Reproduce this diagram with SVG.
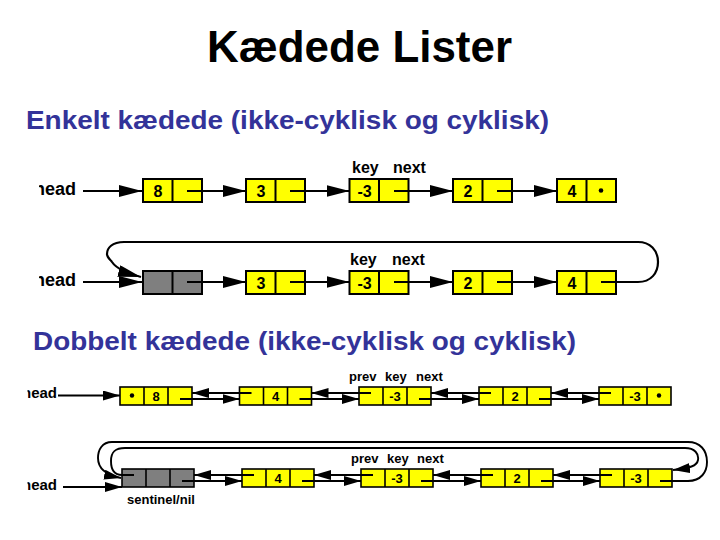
<svg xmlns="http://www.w3.org/2000/svg" width="720" height="540" viewBox="0 0 720 540">
<style>
  text { font-family: "Liberation Sans", Arial, sans-serif; font-weight: bold; }
  .title { font-size: 45px; fill: #000; }
  .sub { font-size: 26px; fill: #333399; }
  .lbl1 { font-size: 16px; fill: #000; }
  .lbl2 { font-size: 13px; fill: #000; }
  .head1 { font-size: 18px; fill: #000; }
  .head2 { font-size: 15px; fill: #000; }
  .num1 { font-size: 16px; fill: #000; text-anchor: middle; }
  .num2 { font-size: 13px; fill: #000; text-anchor: middle; }
  .y1 { fill: #ffff00; stroke: #000; stroke-width: 2; }
  .g1 { fill: #7f7f7f; stroke: #000; stroke-width: 2; }
  .y2 { fill: #ffff00; stroke: #000; stroke-width: 1.6; }
  .g2 { fill: #7f7f7f; stroke: #000; stroke-width: 1.6; }
  .cell1 { stroke: #000; stroke-width: 2; }
  .cell2 { stroke: #000; stroke-width: 1.6; }
  .c1 { fill: none; stroke: #000; stroke-width: 2.2; marker-end: url(#big); }
  .c2 { fill: none; stroke: #000; stroke-width: 1.9; marker-end: url(#small); }
  .dot { fill: #000; }
</style>
<defs>
  <marker id="big" markerUnits="userSpaceOnUse" viewBox="0 0 23 12" markerWidth="23" markerHeight="12" refX="23" refY="6" orient="auto">
    <path d="M0,0 L23,6 L0,12 z" fill="#000"/>
  </marker>
  <marker id="small" markerUnits="userSpaceOnUse" viewBox="0 0 17 10" markerWidth="17" markerHeight="10" refX="17" refY="5" orient="auto">
    <path d="M0,0 L17,5 L0,10 z" fill="#000"/>
  </marker>
  <clipPath id="clipH1"><rect x="39" y="150" width="60" height="160"/></clipPath>
  <clipPath id="clipH2"><rect x="27.5" y="370" width="60" height="140"/></clipPath>
</defs>

<g id="titles">
  <text class="title" x="207" y="62" textLength="305" lengthAdjust="spacingAndGlyphs">Kædede Lister</text>
  <text class="sub" x="26" y="129" textLength="523" lengthAdjust="spacingAndGlyphs">Enkelt kædede (ikke-cyklisk og cyklisk)</text>
  <text class="sub" x="33" y="350" textLength="543" lengthAdjust="spacingAndGlyphs">Dobbelt kædede (ikke-cyklisk og cyklisk)</text>
</g>

<g id="labels">
  <text class="head1" x="34" y="195" clip-path="url(#clipH1)">head</text>
  <text class="head1" x="34" y="286" clip-path="url(#clipH1)">head</text>
  <text class="head2" x="22" y="398" clip-path="url(#clipH2)">head</text>
  <text class="head2" x="22" y="490" clip-path="url(#clipH2)">head</text>
  <text class="lbl1" x="352" y="173">key</text>
  <text class="lbl1" x="393" y="173">next</text>
  <text class="lbl1" x="350" y="265">key</text>
  <text class="lbl1" x="392" y="265">next</text>
  <text class="lbl2" x="349" y="381">prev</text>
  <text class="lbl2" x="385" y="381">key</text>
  <text class="lbl2" x="416" y="381">next</text>
  <text class="lbl2" x="351" y="463">prev</text>
  <text class="lbl2" x="387" y="463">key</text>
  <text class="lbl2" x="417" y="463">next</text>
  <text class="lbl2" x="127" y="504">sentinel/nil</text>
</g>

<!-- Row 1: singly linked, non-cyclic -->
<g id="r1n1"><rect class="y1" x="143" y="179" width="59" height="23"/><line class="cell1" x1="172.5" y1="179" x2="172.5" y2="202"/><text class="num1" x="158" y="197">8</text></g>
<g id="r1n2"><rect class="y1" x="246" y="179" width="59" height="23"/><line class="cell1" x1="275.5" y1="179" x2="275.5" y2="202"/><text class="num1" x="261" y="197">3</text></g>
<g id="r1n3"><rect class="y1" x="349.5" y="179" width="59" height="23"/><line class="cell1" x1="379" y1="179" x2="379" y2="202"/><text class="num1" x="364.5" y="197">-3</text></g>
<g id="r1n4"><rect class="y1" x="453" y="179" width="59" height="23"/><line class="cell1" x1="482.5" y1="179" x2="482.5" y2="202"/><text class="num1" x="468" y="197">2</text></g>
<g id="r1n5"><rect class="y1" x="557" y="179" width="59" height="23"/><line class="cell1" x1="586.5" y1="179" x2="586.5" y2="202"/><text class="num1" x="572" y="197">4</text><circle class="dot" cx="601" cy="190.5" r="2.3"/></g>

<!-- Row 2: singly linked, cyclic -->
<g id="r2n1"><rect class="g1" x="143" y="271" width="59" height="23"/><line class="cell1" x1="172.5" y1="271" x2="172.5" y2="294"/></g>
<g id="r2n2"><rect class="y1" x="246" y="271" width="59" height="23"/><line class="cell1" x1="275.5" y1="271" x2="275.5" y2="294"/><text class="num1" x="261" y="289">3</text></g>
<g id="r2n3"><rect class="y1" x="349.5" y="271" width="59" height="23"/><line class="cell1" x1="379" y1="271" x2="379" y2="294"/><text class="num1" x="364.5" y="289">-3</text></g>
<g id="r2n4"><rect class="y1" x="453" y="271" width="59" height="23"/><line class="cell1" x1="482.5" y1="271" x2="482.5" y2="294"/><text class="num1" x="468" y="289">2</text></g>
<g id="r2n5"><rect class="y1" x="557" y="271" width="59" height="23"/><line class="cell1" x1="586.5" y1="271" x2="586.5" y2="294"/><text class="num1" x="572" y="289">4</text></g>

<!-- Row 3: doubly linked, non-cyclic -->
<g id="r3n1"><rect class="y2" x="120" y="387" width="72" height="18"/><line class="cell2" x1="144" y1="387" x2="144" y2="405"/><line class="cell2" x1="168" y1="387" x2="168" y2="405"/><circle class="dot" cx="132" cy="395.5" r="2.2"/><text class="num2" x="156" y="401">8</text></g>
<g id="r3n2"><rect class="y2" x="239.5" y="387" width="72" height="18"/><line class="cell2" x1="263.5" y1="387" x2="263.5" y2="405"/><line class="cell2" x1="287.5" y1="387" x2="287.5" y2="405"/><text class="num2" x="275.5" y="401">4</text></g>
<g id="r3n3"><rect class="y2" x="359" y="387" width="72" height="18"/><line class="cell2" x1="383" y1="387" x2="383" y2="405"/><line class="cell2" x1="407" y1="387" x2="407" y2="405"/><text class="num2" x="395" y="401">-3</text></g>
<g id="r3n4"><rect class="y2" x="479" y="387" width="72" height="18"/><line class="cell2" x1="503" y1="387" x2="503" y2="405"/><line class="cell2" x1="527" y1="387" x2="527" y2="405"/><text class="num2" x="515" y="401">2</text></g>
<g id="r3n5"><rect class="y2" x="599" y="387" width="72" height="18"/><line class="cell2" x1="623" y1="387" x2="623" y2="405"/><line class="cell2" x1="647" y1="387" x2="647" y2="405"/><text class="num2" x="635" y="401">-3</text><circle class="dot" cx="659" cy="395.5" r="2.2"/></g>

<!-- Row 4: doubly linked, cyclic with sentinel -->
<g id="r4n1"><rect class="g2" x="122" y="469" width="72" height="18"/><line class="cell2" x1="146" y1="469" x2="146" y2="487"/><line class="cell2" x1="170" y1="469" x2="170" y2="487"/></g>
<g id="r4n2"><rect class="y2" x="242" y="469" width="72" height="18"/><line class="cell2" x1="266" y1="469" x2="266" y2="487"/><line class="cell2" x1="290" y1="469" x2="290" y2="487"/><text class="num2" x="278" y="483">4</text></g>
<g id="r4n3"><rect class="y2" x="361" y="469" width="72" height="18"/><line class="cell2" x1="385" y1="469" x2="385" y2="487"/><line class="cell2" x1="409" y1="469" x2="409" y2="487"/><text class="num2" x="397" y="483">-3</text></g>
<g id="r4n4"><rect class="y2" x="481" y="469" width="72" height="18"/><line class="cell2" x1="505" y1="469" x2="505" y2="487"/><line class="cell2" x1="529" y1="469" x2="529" y2="487"/><text class="num2" x="517" y="483">2</text></g>
<g id="r4n5"><rect class="y2" x="600" y="469" width="72" height="18"/><line class="cell2" x1="624" y1="469" x2="624" y2="487"/><line class="cell2" x1="648" y1="469" x2="648" y2="487"/><text class="num2" x="636" y="483">-3</text></g>

<g id="connectors">
  <!-- row 1 -->
  <path class="c1" d="M83 191 H142"/>
  <path class="c1" d="M187 191 H246"/>
  <path class="c1" d="M290 191 H349.5"/>
  <path class="c1" d="M394 191 H453"/>
  <path class="c1" d="M497 191 H557"/>
  <!-- row 2 -->
  <path class="c1" d="M83 282 H142"/>
  <path class="c1" d="M187 282 H246"/>
  <path class="c1" d="M290 282 H349.5"/>
  <path class="c1" d="M394 282 H453"/>
  <path class="c1" d="M497 282 H557"/>
  <path class="c1" d="M601 282 H638 C651 282 658 273 658 262 C658 250 650 242 638 242 H124 C112 242 107 248 107 254 C107 258 111 260 112 262 C116 268 126 273 141 277"/>
  <!-- row 3 -->
  <path class="c2" d="M58 395.5 H120"/>
  <path class="c2" d="M180 399 H239.5"/>
  <path class="c2" d="M251.5 393 H192"/>
  <path class="c2" d="M299.5 399 H359"/>
  <path class="c2" d="M371 393 H311.5"/>
  <path class="c2" d="M419 399 H479"/>
  <path class="c2" d="M491 393 H431"/>
  <path class="c2" d="M539 399 H599"/>
  <path class="c2" d="M611 393 H551"/>
  <!-- row 4 -->
  <path class="c2" d="M63 487 H122"/>
  <path class="c2" d="M182 481 H242"/>
  <path class="c2" d="M254 475 H194"/>
  <path class="c2" d="M302 481 H361"/>
  <path class="c2" d="M373 475 H314"/>
  <path class="c2" d="M421 481 H481"/>
  <path class="c2" d="M493 475 H433"/>
  <path class="c2" d="M541 481 H600"/>
  <path class="c2" d="M612 475 H553"/>
  <!-- sentinel prev -> last (inner loop) -->
  <path class="c2" d="M134 475 H122 C114 475 111 469 111 461 C111 452 115 448 125 448 H685 C695 448 699 454 698 460 C697 466 690 468 673 470"/>
  <!-- last next -> sentinel (outer loop) -->
  <path class="c2" d="M660 481 H688 C701 481 707 472 707 462 C707 450 700 442 688 442 H112 C102 442 98 450 98 458 C98 468 106 475 121 478"/>
</g>
</svg>
